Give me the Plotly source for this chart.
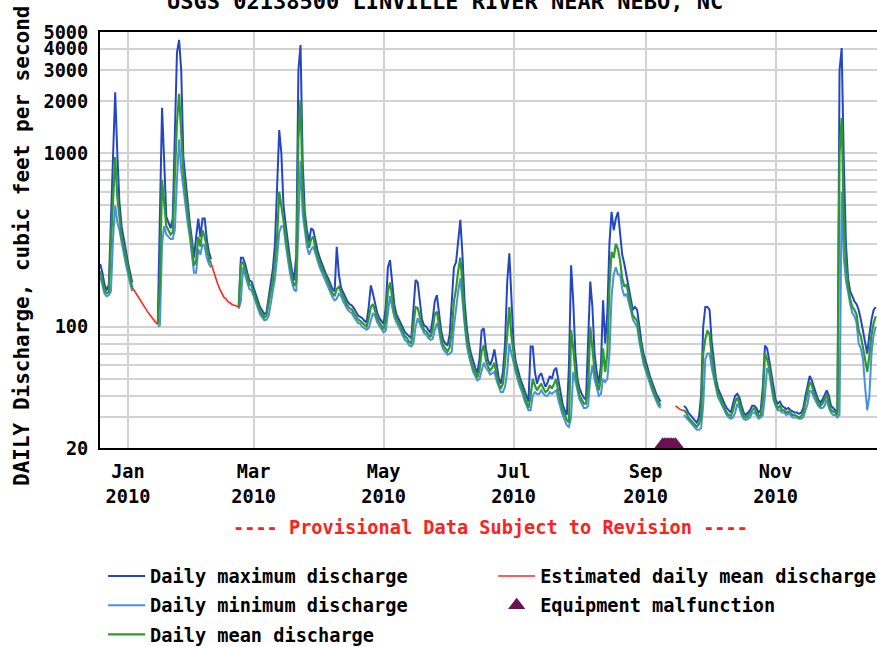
import math
import pandas as pd
import plotly.graph_objects as go

# ---------------- data (cubic feet per second), daily from 2009-12-19 ----------------
START = "2009-12-19"

daily_mean = [
    210, 185, 162, 156, 158, 300, 600, 950, 560, 420,
    330, 290, 250, 215, 190, 169, None, None, None, None,
    None, None, None, None, None, None, None, 103, 180, 700,
    520, 380, 360, 340, 350, 700, 1500, 2200, 1400, 780,
    600, 440, 360, 290, 225, 240, 330, 290, 360, 330,
    280, 245, 232, None, None, None, None, None, None, None,
    None, None, None, None, None, 130, 230, 235, 210, 195,
    175, 172, 158, 145, 132, 123, 118, 113, 116, 135,
    160, 185, 240, 330, 600, 500, 430, 340, 270, 225,
    195, 172, 180, 1200, 2030, 600, 400, 320, 285, 320,
    330, 280, 255, 232, 215, 205, 190, 178, 167, 156,
    150, 165, 170, 158, 148, 138, 132, 128, 126, 120,
    115, 110, 108, 105, 102, 100, 112, 130, 135, 122,
    112, 106, 102, 97, 110, 160, 180, 145, 122, 112,
    106, 99, 93, 88, 86, 82, 80, 100, 130, 128,
    112, 102, 96, 94, 90, 87, 96, 118, 122, 104,
    86, 78, 75, 72, 76, 95, 140, 165, 210, 250,
    175, 110, 86, 72, 64, 58, 54, 51, 56, 72,
    78, 64, 59, 56, 58, 62, 53, 47, 44, 47,
    62, 95, 130, 88, 68, 57, 52, 47, 44, 40,
    37, 34, 40, 50, 46, 43, 45, 47, 44, 42,
    43, 46, 44, 47, 50, 42, 37, 33, 31, 29,
    28, 96, 75, 55, 46, 40, 38, 36, 36, 45,
    100, 74, 56, 48, 43, 50, 75, 55, 70, 170,
    270, 250, 300, 280, 240, 190, 170, 175, 150, 132,
    116, 112, 108, 88, 75, 65, 59, 54, 49, 45,
    42, 39, 37, 35, None, None, None, None, None, None,
    None, None, None, None, 33, 32, 30, 29, 28, 27,
    26.5, 27.5, 30, 70, 85, 95, 90, 68, 55, 46,
    41, 39, 36, 34, 32, 31, 30.5, 33, 37, 39,
    36, 33, 30.5, 30, 30.5, 32, 33, 34, 32, 30.5,
    31, 38, 70, 65, 58, 48, 40, 36, 34, 35,
    33, 33, 32, 32.5, 32, 31, 31, 30.5, 30, 30.5,
    32, 37, 42, 48, 46, 41, 39, 36, 35, 36,
    38, 41, 36, 33, 32.5, 32, 31, 1000, 1600, 420,
    230, 170, 145, 130, 125, 118, 95, 88, 76, 65,
    55, 68, 90, 105, 115,
]

daily_max = [
    230, 205, 175, 162, 175, 420, 1200, 2250, 1000, 520,
    380, 320, 275, 235, 205, 180, None, None, None, None,
    None, None, None, None, None, None, None, 106, 400, 1830,
    900, 430, 400, 370, 420, 1200, 3800, 4500, 3000, 950,
    700, 500, 400, 320, 250, 330, 420, 330, 420, 420,
    320, 270, 245, None, None, None, None, None, None, None,
    None, None, None, None, None, 134, 250, 250, 230, 205,
    185, 182, 168, 152, 140, 130, 124, 118, 121, 150,
    180, 215, 300, 600, 1360, 1000, 500, 390, 300, 250,
    210, 185, 260, 3000, 4200, 900, 460, 360, 310, 370,
    360, 310, 275, 250, 230, 215, 200, 190, 178, 165,
    160, 289, 200, 168, 158, 148, 140, 135, 133, 128,
    122, 116, 114, 112, 108, 106, 130, 173, 155, 135,
    120, 112, 108, 104, 130, 220, 242, 170, 135, 118,
    112, 105, 99, 93, 90, 88, 86, 130, 186, 180,
    135, 110, 102, 100, 96, 92, 110, 140, 152, 120,
    95, 84, 80, 78, 90, 140, 220, 235, 303, 413,
    260, 140, 100, 80, 70, 63, 58, 54, 65, 95,
    98, 75, 64, 60, 65, 74, 62, 51, 47, 55,
    80, 180, 265, 140, 80, 63, 56, 51, 47, 43,
    40, 37, 77, 77, 55, 47, 52, 54, 49, 45,
    48, 52, 50, 56, 58, 50, 41, 36, 33, 31,
    60, 226, 140, 70, 50, 44, 41, 39, 38, 80,
    182, 130, 70, 55, 47, 60, 142, 80, 120, 303,
    459, 360, 420, 459, 330, 260, 230, 200, 170, 145,
    125, 130, 125, 100, 82, 70, 63, 57, 52, 48,
    44, 41, 39, 37, None, None, None, None, None, None,
    None, None, None, None, 35, 34, 32, 31, 30, 29,
    28, 30, 40, 100, 130, 130, 125, 82, 65, 50,
    44, 41, 38, 36, 34, 33, 32, 36, 40, 41,
    39, 35, 32, 31, 32, 33, 35, 35, 34, 32,
    33, 45, 78, 75, 64, 54, 44, 38, 36, 37,
    35, 34, 33.5, 34, 33, 32.5, 32, 32, 31.5, 32,
    34, 40, 46, 52, 49, 44, 41, 38, 36.5, 38,
    41, 43, 40, 35, 34, 33, 32, 3000, 4040, 900,
    300, 190, 160, 150, 140, 135, 125, 110, 95, 80,
    70, 90, 110, 125, 130,
]

daily_min = [
    195, 170, 155, 150, 152, 160, 320, 500, 400, 360,
    300, 265, 230, 200, 178, 160, None, None, None, None,
    None, None, None, None, None, None, None, 100, 102, 300,
    380, 340, 330, 320, 320, 360, 700, 1200, 800, 620,
    520, 400, 330, 265, 205, 205, 280, 260, 300, 290,
    250, 230, 220, None, None, None, None, None, None, None,
    None, None, None, None, None, 127, 140, 220, 195, 180,
    165, 162, 150, 138, 126, 118, 113, 109, 110, 115,
    135, 160, 190, 250, 350, 380, 380, 300, 245, 205,
    180, 163, 160, 400, 900, 450, 360, 290, 260, 280,
    290, 260, 240, 220, 205, 193, 180, 168, 158, 148,
    142, 145, 155, 150, 140, 132, 126, 122, 120, 114,
    110, 105, 104, 100, 98, 96, 98, 110, 120, 115,
    106, 101, 97, 93, 95, 120, 150, 130, 114, 106,
    101, 95, 89, 84, 82, 78, 77, 80, 100, 112,
    104, 97, 92, 90, 86, 84, 85, 95, 105, 95,
    80, 74, 71, 69, 70, 72, 100, 130, 160, 190,
    140, 100, 78, 68, 61, 55, 52, 49, 50, 55,
    62, 58, 56, 53, 54, 55, 49, 45, 42, 42,
    45, 55, 80, 70, 62, 54, 49, 45, 42, 38,
    35, 33, 33, 40, 42, 41, 41, 43, 41, 40,
    40, 42, 41, 42, 43, 38, 34, 31, 29, 27,
    26.4, 30, 55, 48, 43, 38, 36, 34, 34, 35,
    50, 60, 50, 45, 40, 41, 50, 48, 50, 70,
    150, 200, 220, 200, 200, 165, 150, 155, 140, 125,
    110, 105, 100, 82, 70, 61, 56, 51, 47, 43,
    40, 37, 35, 34, None, None, None, None, None, None,
    None, None, None, None, 31, 30, 29, 28, 27, 26,
    25.5, 25.5, 26, 35, 65, 70, 70, 58, 50, 43,
    39, 37, 35, 33, 31, 30, 29.5, 30, 32, 36,
    34, 31, 29.5, 29, 29.5, 30, 32, 32, 31, 29.5,
    30, 31, 40, 58, 54, 45, 38, 35, 33, 33,
    32, 32, 31, 31.5, 31, 30, 30, 30, 29.5, 29.5,
    30, 33, 36, 43, 42, 39, 37, 35, 34, 34,
    35, 38, 34, 32, 31, 31, 30, 31, 600, 250,
    185, 155, 135, 120, 115, 105, 80, 75, 65, 45,
    33, 40, 70, 90, 100,
]

# Estimated daily mean discharge segments: (first date, values)
est_segments = [
    ("2010-01-03", [169, 162, 155, 148, 141, 135, 129, 123, 118, 114, 110, 106, 103]),
    ("2010-02-09", [232, 211, 192, 178, 166, 156, 148, 145, 139, 137, 134, 133, 132, 130]),
    ("2010-09-15", [35, 34, 33.5, 33, 33]),
]

# Equipment malfunction days
equip_dates = ["2010-09-09", "2010-09-10", "2010-09-11", "2010-09-12",
               "2010-09-13", "2010-09-14", "2010-09-15"]

# Axis ticks
x_tick_dates = ["2010-01-01", "2010-03-01", "2010-05-01", "2010-07-01", "2010-09-01", "2010-11-01"]
x_tick_text = ["Jan<br>2010", "Mar<br>2010", "May<br>2010", "Jul<br>2010", "Sep<br>2010", "Nov<br>2010"]
y_tick_vals = [20, 30, 40, 50, 60, 70, 80, 90, 100, 200, 300, 400, 500, 600, 700, 800, 900,
               1000, 2000, 3000, 4000, 5000]
y_tick_text = ["20", "", "", "", "", "", "", "", "100", "", "", "", "", "", "", "", "",
               "1000", "2000", "3000", "4000", "5000"]

# ---------------- styling ----------------
C_MAX = "#2446c4"
C_MIN = "#4a8fe0"
C_MEAN = "#2e9a2e"
C_EST = "#ff2626"
C_EQ = "#6b1252"
FONT = "DejaVu Sans Mono"
FS = 18.6
EQUIP_LEVEL = 20.9

dates = pd.date_range(START, periods=len(daily_mean), freq="D")

est_x, est_y = [], []
for start, vals in est_segments:
    est_x += list(pd.date_range(start, periods=len(vals), freq="D")) + [None]
    est_y += list(vals) + [None]

fig = go.Figure()
fig.add_trace(go.Scatter(x=dates, y=daily_max, mode="lines", name="Daily maximum discharge",
                         line=dict(color=C_MAX, width=2), legend="legend", legendgroup="g1"))
fig.add_trace(go.Scatter(x=dates, y=daily_min, mode="lines", name="Daily minimum discharge",
                         line=dict(color=C_MIN, width=2), legend="legend", legendgroup="g2"))
fig.add_trace(go.Scatter(x=dates, y=daily_mean, mode="lines", name="Daily mean discharge",
                         line=dict(color=C_MEAN, width=2.2), legend="legend", legendgroup="g3"))
fig.add_trace(go.Scatter(x=est_x, y=est_y, mode="lines", name="Estimated daily mean discharge",
                         line=dict(color=C_EST, width=1.6), legend="legend2", legendgroup="g4"))
fig.add_trace(go.Scatter(x=pd.to_datetime(equip_dates), y=[EQUIP_LEVEL] * len(equip_dates),
                         mode="markers", name="Equipment malfunction", cliponaxis=False,
                         marker=dict(symbol="triangle-up", size=15, color=C_EQ),
                         legend="legend2", legendgroup="g5"))

grid = "#d2d2d2"
fig.update_layout(
    width=877, height=647,
    margin=dict(l=100, r=0, t=32, b=199, autoexpand=False),
    paper_bgcolor="white", plot_bgcolor="white",
    font=dict(family=FONT, size=FS, color="black", weight="bold"),
    showlegend=True,
    xaxis=dict(
        type="date",
        range=["2009-12-18 21:00", "2010-12-18 14:00"],
        tickmode="array", tickvals=x_tick_dates, ticktext=x_tick_text,
        showgrid=True, gridcolor=grid, gridwidth=1.5,
        showline=True, linecolor="black", linewidth=2, mirror=True,
        ticks="", zeroline=False, ticklabelstandoff=6, automargin=False,
    ),
    yaxis=dict(
        type="log",
        range=[math.log10(20), math.log10(5000)],
        tickmode="array", tickvals=y_tick_vals, ticktext=y_tick_text,
        showgrid=True, gridcolor=grid, gridwidth=1.5,
        showline=True, linecolor="black", linewidth=2,
        ticks="", ticklabelstandoff=6, automargin=False,
    ),
    legend=dict(x=0.004, y=-0.263, xanchor="left", yanchor="top", orientation="v",
                bgcolor="rgba(0,0,0,0)", tracegroupgap=2, itemwidth=37, font=dict(size=FS)),
    legend2=dict(x=0.506, y=-0.263, xanchor="left", yanchor="top", orientation="v",
                 bgcolor="rgba(0,0,0,0)", tracegroupgap=2, itemwidth=37, font=dict(size=FS)),
    annotations=[
        dict(text="USGS 02138500 LINVILLE RIVER NEAR NEBO, NC", xref="paper", yref="paper",
             x=0.444, y=1.039, xanchor="center", yanchor="bottom", showarrow=False,
             font=dict(size=22, weight="bold")),
        dict(text="DAILY Discharge, cubic feet per second", xref="paper", yref="paper",
             x=-0.1004, y=0.4856, xanchor="center", yanchor="middle", textangle=-90,
             showarrow=False, font=dict(size=21, weight="bold")),
        dict(text="---- Provisional Data Subject to Revision ----", xref="paper", yref="paper",
             x=0.502, y=-0.192, xanchor="center", yanchor="middle", showarrow=False,
             font=dict(size=FS, color="#ff2020")),
    ],
)

fig.write_html(
    "out.html",
    config={"displayModeBar": False},
    post_script="document.body.style.margin='0';"
                "document.body.style.overflow='hidden';"
                "document.documentElement.style.overflow='hidden';",
)
